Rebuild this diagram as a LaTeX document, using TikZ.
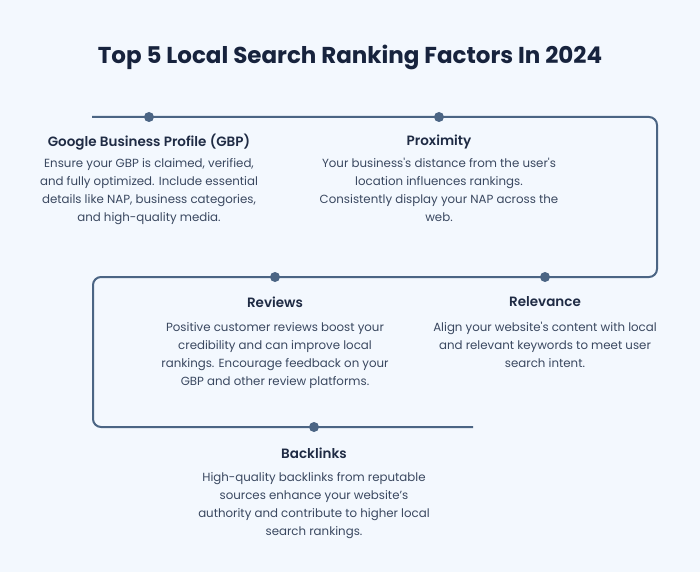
\documentclass[tikz,border=0pt]{standalone}
\usepackage{fontspec}
\setmainfont{Poppins}
\newfontfamily\bodyfont{Poppins}
\newfontfamily\headfont{Poppins SemiBold}
\newfontfamily\titlefont{Poppins Bold}
\definecolor{bg}{HTML}{F3F8FE}
\definecolor{linec}{HTML}{4B6584}
\definecolor{titlec}{HTML}{17233D}
\definecolor{headc}{HTML}{1F2B44}
\definecolor{bodyc}{HTML}{3A4860}
\tikzset{
  x=1pt,y=-1pt,
  flow/.style={draw=linec,line width=2pt,rounded corners=8pt},
  dotc/.style={circle,fill=linec,inner sep=0pt,minimum size=10pt},
  headtxt/.style={font=\headfont\fontsize{13.5}{16}\selectfont,text=headc,inner sep=0pt},
  bodytxt/.style={font=\bodyfont\fontsize{11.8}{18}\selectfont,text=bodyc,align=center,inner sep=0pt,anchor=north},
  titletxt/.style={font=\titlefont\fontsize{23}{27}\selectfont,text=titlec,inner sep=0pt}
}
\begin{document}
\begin{tikzpicture}
\fill[bg] (0,0) rectangle (700,572);
\useasboundingbox (0,0) rectangle (700,572);
\node[titletxt] (title) at (350,57) {Top 5 Local Search Ranking Factors In 2024};
\coordinate (s) at (92,117);
\coordinate (c1) at (657,117);
\coordinate (c2) at (657,277);
\coordinate (c3) at (93,277);
\coordinate (c4) at (93,427);
\coordinate (e) at (473,427);
\draw[flow] (s) -- (c1) -- (c2) -- (c3) -- (c4) -- (e);
\node[dotc] (d1) at (149,117) {};
\node[dotc] (d2) at (439,117) {};
\node[dotc] (d3) at (545,277) {};
\node[dotc] (d4) at (275,277) {};
\node[dotc] (d5) at (314,427) {};
\node[headtxt] (h1) at (149,142) {Google Business Profile (GBP)};
\node[bodytxt] (b1) at (149,158) {Ensure your GBP is claimed, verified,\\and fully optimized. Include essential\\details like NAP, business categories,\\and high-quality media.};
\node[headtxt] (h2) at (439,142) {Proximity};
\node[bodytxt] (b2) at (439,158) {Your business's distance from the user's\\location influences rankings.\\Consistently display your NAP across the\\web.};
\node[headtxt] (h4) at (275,302) {Reviews};
\node[bodytxt] (b4) at (275,322) {Positive customer reviews boost your\\credibility and can improve local\\rankings. Encourage feedback on your\\GBP and other review platforms.};
\node[headtxt] (h3) at (545,302) {Relevance};
\node[bodytxt] (b3) at (545,322) {Align your website's content with local\\and relevant keywords to meet user\\search intent.};
\node[headtxt] (h5) at (314,453) {Backlinks};
\node[bodytxt] (b5) at (314,472) {High-quality backlinks from reputable\\sources enhance your website’s\\authority and contribute to higher local\\search rankings.};
\end{tikzpicture}
\end{document}
